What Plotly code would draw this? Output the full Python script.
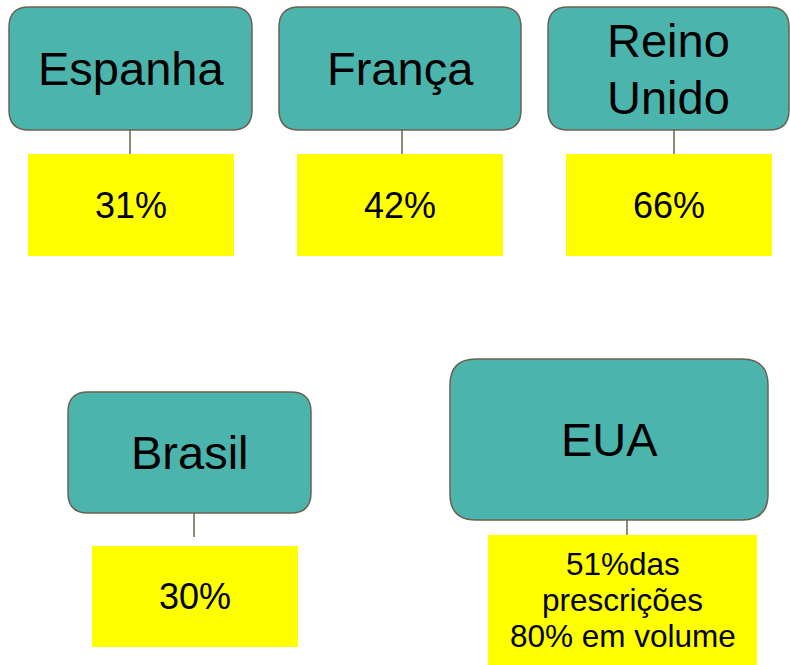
import plotly.graph_objects as go

# ---- data ----
countries = ["Espanha", "França", "Reino<br>Unido", "Brasil", "EUA"]
share_pct = [31, 42, 66, 30, 51]
eua_volume_pct = 80

labels = [f"{v}%" for v in share_pct]
labels[4] = f"{share_pct[4]}%das<br>prescrições<br>{eua_volume_pct}% em volume"

# ---- layout geometry (pixels) ----
boxes = [
    (9, 252, 7, 130, 20),
    (279, 521, 7, 130, 20),
    (548, 789, 7, 130, 20),
    (68, 311, 392, 513, 20),
    (450, 768, 359, 520, 26),
]
ylw = [
    (28, 234, 154, 256),
    (297, 503, 154, 256),
    (566, 772, 154, 256),
    (92, 298, 546, 647),
    (488, 757, 535, 665),
]
conns = [
    (130, 130, 154),
    (402, 130, 154),
    (674, 130, 154),
    (194, 513, 537),
    (627, 520, 535),
]
box_font = [47, 47, 47, 47, 47]
box_lh = [57, 57, 57, 57, 57]
ylw_font = [36, 36, 36, 36, 31.5]
ylw_lh = [40, 40, 40, 40, 36]

TEAL = "#4BB5AD"
EDGE = "#6D6050"
YELLOW = "#FFFF00"
FONT = "Liberation Sans, Arial, sans-serif"


def rrect(x0, x1, y0, y1, r):
    return (f"M {x0+r},{y0} L {x1-r},{y0} Q {x1},{y0} {x1},{y0+r} "
            f"L {x1},{y1-r} Q {x1},{y1} {x1-r},{y1} L {x0+r},{y1} "
            f"Q {x0},{y1} {x0},{y1-r} L {x0},{y0+r} Q {x0},{y0} {x0+r},{y0} Z")


def text_lines(text, cx, cy, size, lh):
    lines = text.split("<br>")
    n = len(lines)
    out = []
    for k, ln in enumerate(lines):
        y = cy + (k - (n - 1) / 2) * lh
        out.append(dict(x=cx, y=y, xref="x", yref="y", text=ln, showarrow=False,
                        font=dict(family=FONT, size=size, color="black"),
                        xanchor="center", yanchor="middle"))
    return out


fig = go.Figure()
fig.add_trace(go.Scatter(x=[0, 790], y=[0, 665], mode="markers",
                         marker=dict(opacity=0), hoverinfo="skip", showlegend=False))

shapes = []
annotations = []
for i in range(len(countries)):
    x0, x1, y0, y1, r = boxes[i]
    shapes.append(dict(type="path", path=rrect(x0, x1, y0, y1, r), xref="x", yref="y",
                       fillcolor=TEAL, line=dict(color=EDGE, width=1.5), layer="below"))
    cx, cy0, cy1 = conns[i]
    shapes.append(dict(type="line", x0=cx, x1=cx, y0=cy0, y1=cy1, xref="x", yref="y",
                       line=dict(color=EDGE, width=1.5), layer="below"))
    a0, a1, b0, b1 = ylw[i]
    shapes.append(dict(type="rect", x0=a0, x1=a1, y0=b0, y1=b1, xref="x", yref="y",
                       fillcolor=YELLOW, line=dict(width=0), layer="below"))
    annotations += text_lines(countries[i], (x0 + x1) / 2, (y0 + y1) / 2,
                              box_font[i], box_lh[i])
    annotations += text_lines(labels[i], (a0 + a1) / 2, (b0 + b1) / 2,
                              ylw_font[i], ylw_lh[i])

fig.update_layout(
    width=790, height=665,
    margin=dict(l=0, r=0, t=0, b=0),
    paper_bgcolor="white", plot_bgcolor="white",
    xaxis=dict(range=[0, 790], visible=False, fixedrange=True),
    yaxis=dict(range=[665, 0], visible=False, fixedrange=True),
    shapes=shapes, annotations=annotations,
    showlegend=False,
)

fig.write_html("out.html", config={"displayModeBar": False},
               post_script="document.body.style.margin='0';document.body.style.overflow='hidden';")
